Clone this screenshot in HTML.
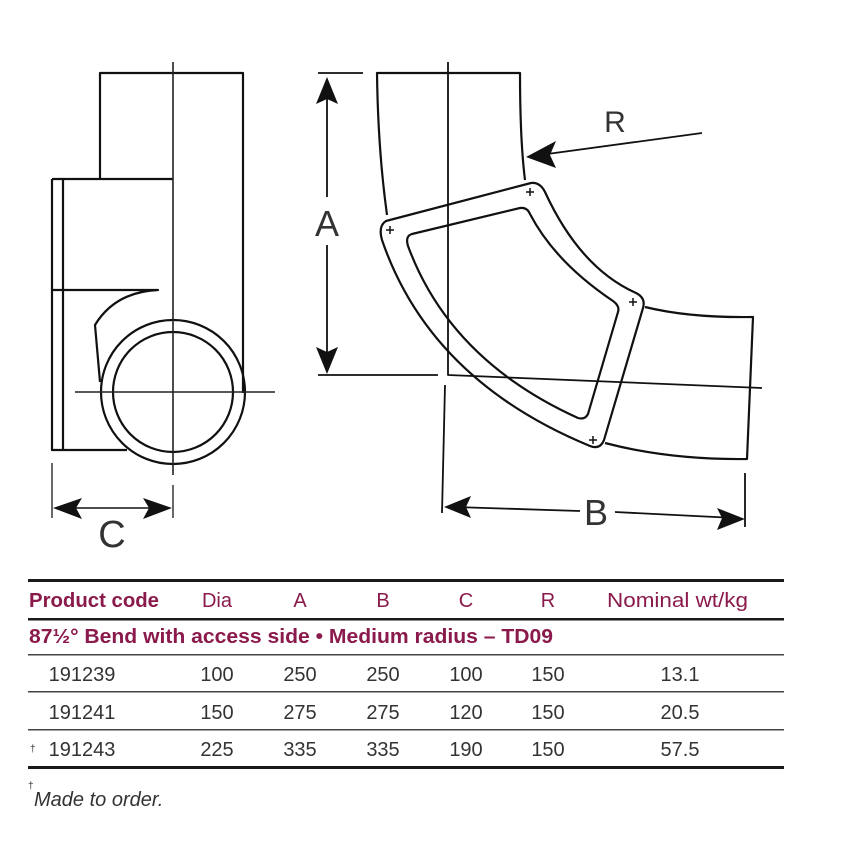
<!DOCTYPE html>
<html><head><meta charset="utf-8"><style>
html,body{margin:0;padding:0;background:#fff}
svg{display:block}
text{font-family:"Liberation Sans",sans-serif}
</style></head><body>
<svg width="850" height="850" viewBox="0 0 850 850" xmlns="http://www.w3.org/2000/svg">
<g fill="none" stroke="#111" stroke-width="2.2" stroke-linejoin="round">
 <!-- left view -->
 <path d="M100 179 V73 H243 V393"/>
 <path d="M52 179 H173 M52 179 V450 H127 M63 179 V450"/>
 <path d="M52 290 H158 Q115 292 95 325 L100 382"/>
 <circle cx="173" cy="392" r="72"/>
 <circle cx="173" cy="392" r="60"/>
 <path d="M173 62 V475 M75 392 H275" stroke-width="1.6" stroke="#222"/>
 <path d="M52 463 V518 M173 485 V518" stroke-width="1.6" stroke="#444"/>
 <path d="M62 508 H164" stroke-width="1.6"/>
</g>
<polygon points="53,508 82,498 76,508 82,519" fill="#111"/>
<polygon points="172,508 143,498 149,508 143,519" fill="#111"/>
<text x="112" y="547" font-size="38" text-anchor="middle" fill="#333" font-weight="300">C</text>

<g fill="none" stroke="#111" stroke-width="2.2" stroke-linejoin="round">
 <!-- right view -->
 <path d="M387 215 Q378 150 377 73 H520 Q520 140 525 180"/>
 <path d="M645 307 Q690 318 753 317 L747 459 Q670 460 605 443"/>
 <!-- flange outer -->
 <path d="M386 221 L531 183 Q540 182 545 192 Q580 268 636 293 Q646 298 643 308 L604 440 Q600 450 590 446 Q430 380 382 240 Q378 226 386 221 Z"/>
 <!-- window -->
 <path d="M412 234 L520 208 Q527 207 530 214 Q555 262 613 301 Q620 306 618 312 L588 414 Q585 420 578 418 Q450 360 408 246 Q405 236 412 234 Z"/>
 <path d="M448 62 V375 L762 388" stroke-width="1.8"/>
 <path d="M318 73 H363 M318 375 H438" stroke-width="1.8"/>
 <path d="M327 90 V197 M327 245 V360" stroke-width="1.8"/>
 <path d="M445 385 L442 513 M745 473 V527" stroke-width="1.8"/>
 <path d="M455 507 L580 511 M615 512 L735 518" stroke-width="1.8"/>
 <path d="M702 133 L540 155" stroke-width="1.8"/>
</g>
<g stroke="#111" stroke-width="1.5">
 <path d="M386 230 h8 M390 226 v8 M526 192 h8 M530 188 v8 M629 302 h8 M633 298 v8 M589 440 h8 M593 436 v8"/>
</g>
<polygon points="327,77 316,104 327,99 338,104" fill="#111"/>
<polygon points="327,374 316,347 327,352 338,347" fill="#111"/>
<polygon points="444,507 471,496 466,507 471,518" fill="#111"/>
<polygon points="745,519 717,508 722,518 717,530" fill="#111"/>
<polygon points="526,157 556,141 550,155 556,168" fill="#111"/>
<text x="327" y="236" font-size="36" text-anchor="middle" fill="#333">A</text>
<text x="596" y="525" font-size="36" text-anchor="middle" fill="#333">B</text>
<text x="615" y="132" font-size="30" text-anchor="middle" fill="#333">R</text>

<!-- table -->
<rect x="28" y="579" width="756" height="3" fill="#1a1a1a"/>
<rect x="28" y="618" width="756" height="2.5" fill="#1a1a1a"/>
<rect x="28" y="654" width="756" height="1.5" fill="#444"/>
<rect x="28" y="691" width="756" height="1.5" fill="#444"/>
<rect x="28" y="729" width="756" height="1.5" fill="#444"/>
<rect x="28" y="766" width="756" height="3" fill="#1a1a1a"/>
<g fill="#8a1a4b" font-size="20">
 <text x="29" y="607" font-weight="bold" textLength="130" lengthAdjust="spacingAndGlyphs">Product code</text>
 <text x="202" y="607" textLength="30" lengthAdjust="spacingAndGlyphs">Dia</text>
 <text x="300" y="607" text-anchor="middle">A</text>
 <text x="383" y="607" text-anchor="middle">B</text>
 <text x="466" y="607" text-anchor="middle">C</text>
 <text x="548" y="607" text-anchor="middle">R</text>
 <text x="607" y="607" textLength="141" lengthAdjust="spacingAndGlyphs">Nominal wt/kg</text>
 <text x="29" y="643" font-weight="bold" textLength="524" lengthAdjust="spacingAndGlyphs">87½° Bend with access side • Medium radius – TD09</text>
</g>
<g fill="#333" font-size="20" text-anchor="middle">
 <text x="82" y="681">191239</text><text x="217" y="681">100</text><text x="300" y="681">250</text><text x="383" y="681">250</text><text x="466" y="681">100</text><text x="548" y="681">150</text><text x="680" y="681">13.1</text>
 <text x="82" y="719">191241</text><text x="217" y="719">150</text><text x="300" y="719">275</text><text x="383" y="719">275</text><text x="466" y="719">120</text><text x="548" y="719">150</text><text x="680" y="719">20.5</text>
 <text x="82" y="756">191243</text><text x="217" y="756">225</text><text x="300" y="756">335</text><text x="383" y="756">335</text><text x="466" y="756">190</text><text x="548" y="756">150</text><text x="680" y="756">57.5</text>
</g>
<text x="30" y="752" font-size="10" fill="#333">†</text>
<text x="28" y="789" font-size="10" fill="#333">†</text>
<text x="34" y="806" font-size="20" font-style="italic" fill="#333">Made to order.</text>
</svg>
</body></html>
